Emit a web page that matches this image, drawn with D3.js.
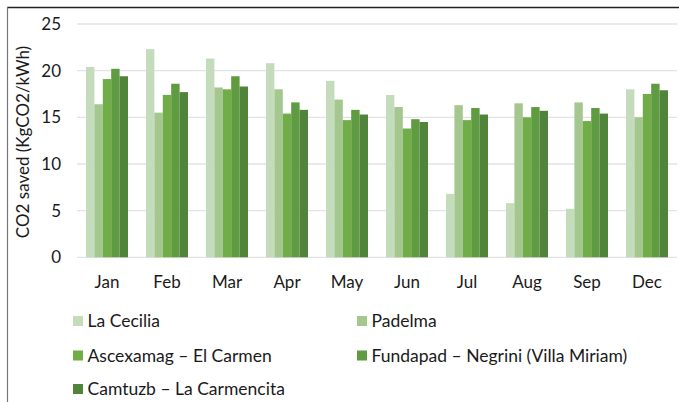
<!DOCTYPE html>
<html>
<head>
<meta charset="utf-8">
<script src="https://cdn.jsdelivr.net/npm/d3@7"></script>
<style>
  body { margin: 0; background: #fff; }
  svg text { font-family: Lato, "Open Sans", sans-serif; fill: #1a1a1a; }
</style>
</head>
<body>
<div id="chart"></div>
<script>
// data
const months = ['Jan', 'Feb', 'Mar', 'Apr', 'May', 'Jun', 'Jul', 'Aug', 'Sep', 'Dec'];
const seriesNames = [
  'La Cecilia',
  'Padelma',
  'Ascexamag – El Carmen',
  'Fundapad – Negrini (Villa Miriam)',
  'Camtuzb – La Carmencita'
];
const laCecilia = [20.4, 22.3, 21.3, 20.8, 18.9, 17.4, 6.8, 5.8, 5.2, 18.0];
const padelma = [16.4, 15.5, 18.2, 18.0, 16.9, 16.1, 16.3, 16.5, 16.6, 15.0];
const ascexamag = [19.1, 17.4, 18.0, 15.4, 14.7, 13.8, 14.7, 15.0, 14.6, 17.5];
const fundapad = [20.2, 18.6, 19.4, 16.6, 15.8, 14.8, 16.0, 16.1, 16.0, 18.6];
const camtuzb = [19.4, 17.7, 18.3, 15.8, 15.3, 14.5, 15.3, 15.7, 15.4, 17.9];
const yTicks = [0, 5, 10, 15, 20, 25];
const colors = ['#c4dcbc', '#a3c78f', '#70ad47', '#5f9b40', '#4f843a'];

const allSeries = [laCecilia, padelma, ascexamag, fundapad, camtuzb];

const W = 679, H = 402;

const svg = d3.select('#chart').append('svg')
  .attr('width', W).attr('height', H);

// frame (top and left edges are the only ones inside the picture)
svg.append('line').attr('x1', 7).attr('x2', W).attr('y1', 7.5).attr('y2', 7.5)
  .attr('stroke', '#222').attr('stroke-width', 1.6);
svg.append('line').attr('x1', 7.5).attr('x2', 7.5).attr('y1', 7).attr('y2', H)
  .attr('stroke', '#777').attr('stroke-width', 1.2);

const x = d3.scaleBand().domain(months).range([77, 677]).paddingInner(0.3).paddingOuter(0.15);
const x1 = d3.scaleBand().domain(d3.range(seriesNames.length)).range([0, x.bandwidth()]);
const y = d3.scaleLinear().domain([0, 25]).range([257.3, 24]);

// gridlines
svg.append('g').selectAll('line').data(yTicks).join('line')
  .attr('x1', 77).attr('x2', 677)
  .attr('y1', d => y(d)).attr('y2', d => y(d))
  .attr('stroke', '#e3e3e3').attr('stroke-width', 1.3);

// y tick labels
svg.append('g').selectAll('text').data(yTicks).join('text')
  .attr('x', 61).attr('y', d => y(d)).attr('dy', '0.35em')
  .attr('text-anchor', 'end').style('font-size', '17px')
  .text(d => d);

// bars
const groups = svg.append('g').selectAll('g').data(months).join('g')
  .attr('transform', m => `translate(${x(m)},0)`);
groups.selectAll('rect')
  .data((m, i) => allSeries.map((s, k) => ({ k, v: s[i] })))
  .join('rect')
  .attr('x', d => x1(d.k))
  .attr('width', x1.bandwidth())
  .attr('y', d => y(d.v))
  .attr('height', d => y(0) - y(d.v))
  .attr('fill', d => colors[d.k]);

// x labels
svg.append('g').selectAll('text').data(months).join('text')
  .attr('x', m => x(m) + x.bandwidth() / 2).attr('y', 287.5)
  .attr('text-anchor', 'middle').style('font-size', '17px')
  .text(m => m);

// axis title
svg.append('text')
  .attr('transform', 'translate(29,142) rotate(-90)')
  .attr('text-anchor', 'middle').style('font-size', '17px')
  .text('CO2 saved (KgCO2/kWh)');

// legend, two columns
const legendPos = [[73, 321], [357, 321], [73, 355.5], [357, 355.5], [73, 389]];
const lg = svg.append('g').selectAll('g').data(seriesNames).join('g')
  .attr('transform', (d, i) => `translate(${legendPos[i][0]},${legendPos[i][1]})`);
lg.append('rect').attr('x', 0).attr('y', -5).attr('width', 10).attr('height', 10)
  .attr('fill', (d, i) => colors[i]);
lg.append('text').attr('x', 14.5).attr('dy', '0.36em').style('font-size', '17.5px')
  .text(d => d);
</script>
</body>
</html>
